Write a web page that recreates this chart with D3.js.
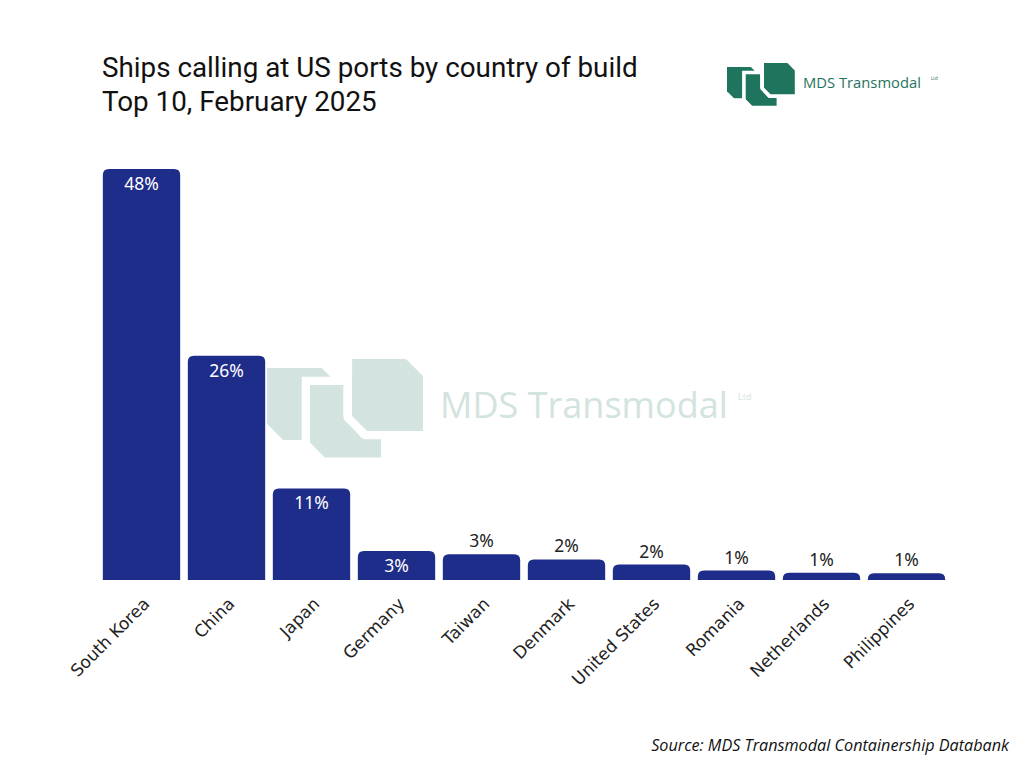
<!DOCTYPE html>
<html>
<head>
<meta charset="utf-8">
<script src="https://cdn.jsdelivr.net/npm/d3@7"></script>
<style>
  html, body { margin: 0; padding: 0; background: #fff; }
  svg { display: block; }
</style>
</head>
<body>
<div id="chart"></div>
<script>
// Dati (quota % delle navi per paese di costruzione)
const countries = ["South Korea", "China", "Japan", "Germany", "Taiwan",
  "Denmark", "United States", "Romania", "Netherlands", "Philippines"];
const shares = [48.0, 26.2, 10.7, 3.4, 3.0, 2.4, 1.8, 1.1, 0.85, 0.8];
const shareLabels = ["48%", "26%", "11%", "3%", "3%", "2%", "2%", "1%", "1%", "1%"];

const titleLines = ["Ships calling at US ports by country of build", "Top 10, February 2025"];
const sourceText = "Source: MDS Transmodal Containership Databank";

const W = 1024, H = 768;
const barColor = "#1f2d8a";
const logoGreen = "#1f745e";
const ghostGreen = "#d3e3df";

const svg = d3.select("#chart").append("svg")
  .attr("width", W).attr("height", H);

// adatta la dimensione del font a una larghezza data
function fitWidth(t, baseSize, targetWidth) {
  const w = t.node().getComputedTextLength();
  t.style("font-size", (baseSize * targetWidth / w) + "px");
}

// --- Logo (stesse forme per intestazione e filigrana) ---
const logoShapes = [
  "M0,3.9 L23.8,3.9 L27.4,7.5 L27.4,35.2 L7,35.2 L0,28.2 Z",
  "M18.7,11.3 L33.2,11.3 L33.2,25.1 L41.2,34.5 L49.6,34.5 L49.6,42.8 L25.2,42.8 L18.7,36.3 Z",
  "M37,0 L60.4,0 L67.8,7.4 L67.8,31.3 L43.5,31.3 L37,24.8 Z"
];

function drawLogo(x, y, k, color, textX, textBase, textWidth, ltdX, ltdY, ltdSize) {
  const g = svg.append("g").attr("transform", `translate(${x},${y}) scale(${k})`);
  g.selectAll("path")
    .data(logoShapes)
    .join("path")
    .attr("d", d => d)
    .attr("fill", color)
    .attr("stroke", "#fff")
    .attr("stroke-width", (d, i) => i === 0 ? 0 : 7.2)
    .attr("stroke-linejoin", "miter")
    .style("paint-order", "stroke");

  const t = svg.append("text")
    .attr("x", textX).attr("y", textBase)
    .attr("fill", color)
    .style("font-family", "'Open Sans', sans-serif")
    .style("font-size", "40px")
    .text("MDS Transmodal");
  fitWidth(t, 40, textWidth);

  svg.append("text")
    .attr("x", ltdX).attr("y", ltdY)
    .attr("fill", color)
    .style("font-family", "'Open Sans', sans-serif")
    .style("font-size", ltdSize + "px")
    .text("Ltd");
}

// filigrana
drawLogo(267, 359, 2.3, ghostGreen, 440, 418, 288, 738, 400, 9);
// intestazione
drawLogo(727, 63, 1, logoGreen, 803, 87.5, 118, 931, 80, 4.5);

// --- Titolo ---
svg.append("g")
  .selectAll("text")
  .data(titleLines)
  .join("text")
  .attr("x", 102)
  .attr("y", (d, i) => 77 + i * 34)
  .attr("fill", "#111")
  .style("font-family", "Roboto, sans-serif")
  .style("font-size", "27.8px")
  .text(d => d);

// --- Scale ---
const x = d3.scaleBand()
  .domain(countries)
  .range([99, 949])
  .paddingInner(0.09)
  .paddingOuter(0.045);

const y = d3.scaleLinear()
  .domain([0, 48])
  .range([580, 169]);

const data = countries.map((c, i) => ({ country: c, value: shares[i], label: shareLabels[i] }));

// barre con angoli superiori arrotondati
function topRoundedBar(x0, y0, w, h, r) {
  r = Math.min(r, h, w / 2);
  return `M${x0},${y0 + h} L${x0},${y0 + r} Q${x0},${y0} ${x0 + r},${y0}` +
    ` L${x0 + w - r},${y0} Q${x0 + w},${y0} ${x0 + w},${y0 + r} L${x0 + w},${y0 + h} Z`;
}

svg.append("g")
  .selectAll("path")
  .data(data)
  .join("path")
  .attr("d", d => topRoundedBar(x(d.country), y(d.value), x.bandwidth(), y(0) - y(d.value), 6))
  .attr("fill", barColor);

// etichette valori: dentro la barra se abbastanza alta
const inside = d => d.value > 3.2;
svg.append("g")
  .selectAll("text")
  .data(data)
  .join("text")
  .attr("x", d => x(d.country) + x.bandwidth() / 2)
  .attr("y", d => inside(d) ? y(d.value) + 21 : y(d.value) - 7)
  .attr("text-anchor", "middle")
  .attr("fill", d => inside(d) ? "#fff" : "#222")
  .style("font-family", "'Noto Sans', sans-serif")
  .style("font-size", "17.5px")
  .text(d => d.label);

// --- Asse X (solo etichette ruotate) ---
const xAxis = svg.append("g")
  .attr("transform", `translate(0,${y(0)})`)
  .call(d3.axisBottom(x).tickSize(0).tickPadding(0));
xAxis.select(".domain").remove();
xAxis.selectAll("text")
  .attr("text-anchor", "end")
  .attr("fill", "#222")
  .attr("dy", null)
  .attr("y", 0)
  .attr("transform", "translate(9,25) rotate(-45)")
  .style("font-family", "'DejaVu Sans', sans-serif")
  .style("font-size", "17px");

// --- Fonte ---
const src = svg.append("text")
  .attr("x", 1009).attr("y", 751)
  .attr("text-anchor", "end")
  .attr("fill", "#111")
  .style("font-family", "'Open Sans', sans-serif")
  .style("font-style", "italic")
  .style("font-size", "14px")
  .text(sourceText);
fitWidth(src, 14, 358);
</script>
</body>
</html>
